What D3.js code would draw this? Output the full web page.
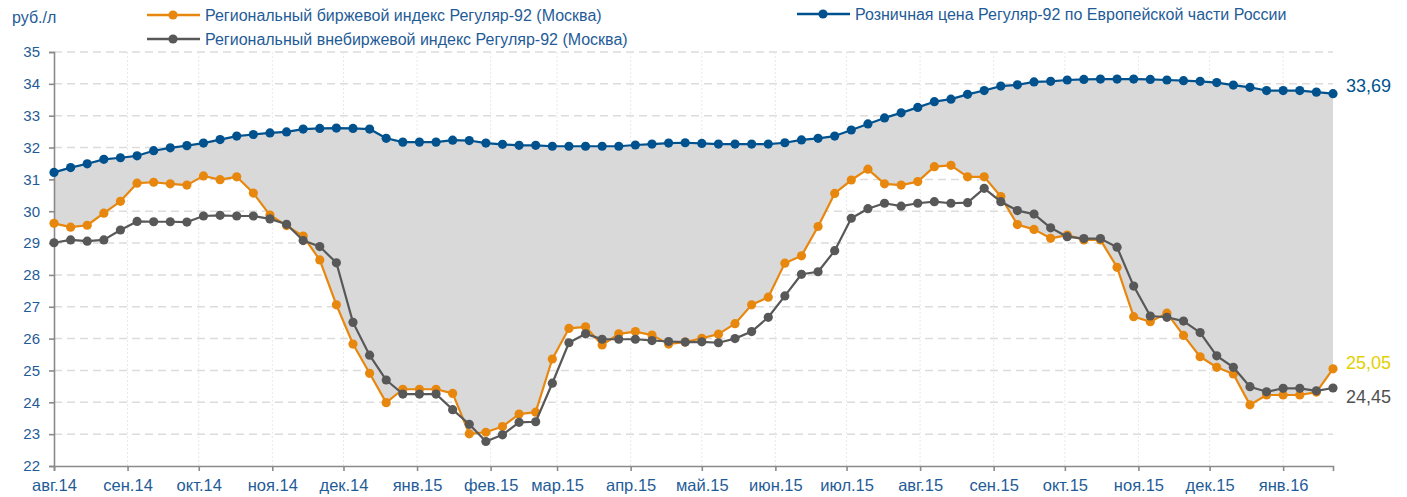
<!DOCTYPE html>
<html>
<head>
<meta charset="utf-8">
<script src="https://cdn.jsdelivr.net/npm/d3@7"></script>
<style>
  html, body { margin: 0; padding: 0; background: #fff; }
  svg { display: block; font-family: "Liberation Sans", Arial, sans-serif; }
</style>
</head>
<body>
<svg id="chart" width="1407" height="497"></svg>
<script>
// Weekly observations, first week of August 2014 through late January 2016
const startDate = new Date(Date.UTC(2014, 7, 1));
const weekCount = 78;

// Розничная цена Регуляр-92 по Европейской части России, руб./л
const retailPrice = [
  31.22, 31.37, 31.49, 31.63, 31.68, 31.74, 31.90, 31.99, 32.06, 32.14,
  32.25, 32.36, 32.41, 32.46, 32.49, 32.58, 32.60, 32.61, 32.60, 32.58,
  32.29, 32.17, 32.17, 32.17, 32.23, 32.22, 32.14, 32.10, 32.07, 32.07,
  32.04, 32.04, 32.04, 32.04, 32.04, 32.08, 32.11, 32.14, 32.15, 32.13,
  32.11, 32.11, 32.11, 32.11, 32.15, 32.24, 32.29, 32.36, 32.55, 32.74,
  32.93, 33.09, 33.26, 33.44, 33.52, 33.67, 33.79, 33.93, 33.97, 34.06,
  34.08, 34.12, 34.14, 34.15, 34.15, 34.15, 34.14, 34.12, 34.10, 34.08,
  34.04, 33.96, 33.89, 33.79, 33.79, 33.79, 33.74, 33.69
];

// Региональный биржевой индекс Регуляр-92 (Москва)
const exchangeIndex = [
  29.62, 29.50, 29.56, 29.94, 30.31, 30.88, 30.91, 30.86, 30.82, 31.11,
  30.99, 31.08, 30.57, 29.88, 29.55, 29.22, 28.47, 27.06, 25.83, 24.91,
  23.99, 24.41, 24.41, 24.41, 24.28, 23.01, 23.06, 23.24, 23.63, 23.69,
  25.36, 26.32, 26.37, 25.80, 26.15, 26.22, 26.11, 25.83, 25.89, 26.01,
  26.14, 26.47, 27.06, 27.30, 28.37, 28.60, 29.52, 30.56, 30.98, 31.32,
  30.86, 30.82, 30.93, 31.40, 31.44, 31.08, 31.08, 30.46, 29.58, 29.43,
  29.15, 29.25, 29.10, 29.10, 28.24, 26.69, 26.53, 26.80, 26.10, 25.43,
  25.10, 24.89, 23.92, 24.23, 24.23, 24.23, 24.32, 25.05
];

// Региональный внебиржевой индекс Регуляр-92 (Москва)
const otcIndex = [
  29.01, 29.10, 29.06, 29.10, 29.41, 29.68, 29.67, 29.67, 29.66, 29.85,
  29.87, 29.85, 29.85, 29.76, 29.59, 29.08, 28.89, 28.38, 26.51, 25.48,
  24.70, 24.26, 24.26, 24.26, 23.77, 23.31, 22.77, 22.98, 23.37, 23.39,
  24.60, 25.87, 26.15, 25.98, 25.98, 25.98, 25.94, 25.91, 25.89, 25.90,
  25.87, 26.00, 26.22, 26.67, 27.34, 28.02, 28.10, 28.76, 29.78, 30.08,
  30.25, 30.16, 30.25, 30.30, 30.25, 30.27, 30.72, 30.30, 30.02, 29.91,
  29.48, 29.20, 29.14, 29.14, 28.87, 27.65, 26.71, 26.67, 26.55, 26.19,
  25.46, 25.10, 24.49, 24.33, 24.44, 24.44, 24.36, 24.45
];

const monthLabels = [
  "авг.14", "сен.14", "окт.14", "ноя.14", "дек.14", "янв.15", "фев.15",
  "мар.15", "апр.15", "май.15", "июн.15", "июл.15", "авг.15", "сен.15",
  "окт.15", "ноя.15", "дек.15", "янв.16"
];

const yTicks = [22, 23, 24, 25, 26, 27, 28, 29, 30, 31, 32, 33, 34, 35];

const seriesNames = {
  exchange: "Региональный биржевой индекс Регуляр-92 (Москва)",
  otc: "Региональный внебиржевой индекс Регуляр-92 (Москва)",
  retail: "Розничная цена Регуляр-92 по Европейской части России"
};

const colors = {
  exchange: "#e8870e",
  otc: "#585858",
  retail: "#00528f",
  text: "#1f5c97",
  fill: "#d9d9d9",
  grid: "#dcdcdc",
  axis: "#8a8a8a",
  exchangeLabel: "#e3d000",
  otcLabel: "#505050"
};

const dates = d3.range(weekCount).map(i => d3.utcDay.offset(startDate, 7 * i));
const monthStarts = monthLabels.map((_, i) => d3.utcMonth.offset(startDate, i));

const rows = dates.map((d, i) => ({
  date: d,
  retail: retailPrice[i],
  exchange: exchangeIndex[i],
  otc: otcIndex[i]
}));

const margin = { left: 54, right: 74, top: 52, bottom: 31 };
const width = 1407, height = 497;

const svg = d3.select("#chart");

const x = d3.scaleUtc()
  .domain([dates[0], dates[dates.length - 1]])
  .range([margin.left, width - margin.right]);

const y = d3.scaleLinear()
  .domain([22, 35])
  .range([height - margin.bottom, margin.top]);

// Gridlines
const grid = svg.append("g");
grid.selectAll("line.h")
  .data(yTicks.slice(1))
  .join("line")
  .attr("x1", x.range()[0]).attr("x2", x.range()[1])
  .attr("y1", d => y(d)).attr("y2", d => y(d))
  .attr("stroke", colors.grid)
  .attr("stroke-width", 1.5)
  .attr("stroke-dasharray", "8,5");

grid.selectAll("line.v")
  .data(monthStarts.slice(1))
  .join("line")
  .attr("x1", d => x(d)).attr("x2", d => x(d))
  .attr("y1", y(35)).attr("y2", y(22))
  .attr("stroke", "#e8e8e8")
  .attr("stroke-width", 1)
  .attr("stroke-dasharray", "2,2");

// Spread between retail price and exchange index
const area = d3.area()
  .x(d => x(d.date))
  .y0(d => y(d.exchange))
  .y1(d => y(d.retail));

svg.append("path")
  .datum(rows)
  .attr("d", area)
  .attr("fill", colors.fill);

// Axes
const yAxis = d3.axisLeft(y)
  .tickValues(yTicks)
  .tickSize(5)
  .tickPadding(9)
  .tickFormat(d3.format("d"));

const yg = svg.append("g")
  .attr("transform", `translate(${margin.left},0)`)
  .call(yAxis);

const xAxis = d3.axisBottom(x)
  .tickValues(monthStarts)
  .tickSize(5)
  .tickPadding(8)
  .tickFormat((d, i) => monthLabels[i]);

const xg = svg.append("g")
  .attr("transform", `translate(0,${y(22)})`)
  .call(xAxis);

[yg, xg].forEach(g => {
  g.select(".domain").attr("stroke", colors.axis).attr("stroke-width", 1.6);
  g.selectAll(".tick line").attr("stroke", colors.axis).attr("stroke-width", 1.6);
  g.selectAll(".tick text")
    .attr("fill", colors.text)
    .attr("font-family", "Liberation Sans, Arial, sans-serif");
});
yg.selectAll(".tick text").attr("font-size", 15);
xg.selectAll(".tick text").attr("font-size", 16.5);

// Series lines and markers
const seriesOrder = ["exchange", "retail", "otc"];
seriesOrder.forEach(key => {
  const line = d3.line().x(d => x(d.date)).y(d => y(d[key]));
  const g = svg.append("g");
  g.append("path")
    .datum(rows)
    .attr("d", line)
    .attr("fill", "none")
    .attr("stroke", colors[key])
    .attr("stroke-width", 2.2)
    .attr("stroke-linejoin", "round");
  g.selectAll("circle")
    .data(rows)
    .join("circle")
    .attr("cx", d => x(d.date))
    .attr("cy", d => y(d[key]))
    .attr("r", 4.6)
    .attr("fill", colors[key]);
});

// Last values at the right end
const last = rows[rows.length - 1];
const fmt = v => d3.format(".2f")(v).replace(".", ",");
const endLabels = [
  { key: "retail", color: colors.retail, dy: -8 },
  { key: "exchange", color: colors.exchangeLabel, dy: -6 },
  { key: "otc", color: colors.otcLabel, dy: 9 }
];
svg.append("g").selectAll("text")
  .data(endLabels)
  .join("text")
  .attr("x", x(last.date) + 13)
  .attr("y", d => y(last[d.key]) + d.dy)
  .attr("dy", "0.35em")
  .attr("fill", d => d.color)
  .attr("font-size", 18)
  .text(d => fmt(last[d.key]));

// Unit label
svg.append("text")
  .attr("x", 12)
  .attr("y", 23)
  .attr("fill", colors.text)
  .attr("font-size", 16)
  .text("руб./л");

// Legend
const legendItems = [
  { key: "exchange", x: 147, y: 15 },
  { key: "otc", x: 147, y: 39 },
  { key: "retail", x: 797, y: 14 }
];
const legend = svg.append("g").selectAll("g")
  .data(legendItems)
  .join("g")
  .attr("transform", d => `translate(${d.x},${d.y})`);
legend.append("line")
  .attr("x1", 0).attr("x2", 53)
  .attr("y1", 0).attr("y2", 0)
  .attr("stroke", d => colors[d.key])
  .attr("stroke-width", 2.5);
legend.append("circle")
  .attr("cx", 26).attr("cy", 0).attr("r", 4.6)
  .attr("fill", d => colors[d.key]);
legend.append("text")
  .attr("x", 58)
  .attr("y", 0)
  .attr("dy", "0.35em")
  .attr("fill", colors.text)
  .attr("font-size", 16)
  .text(d => seriesNames[d.key]);
</script>
</body>
</html>
